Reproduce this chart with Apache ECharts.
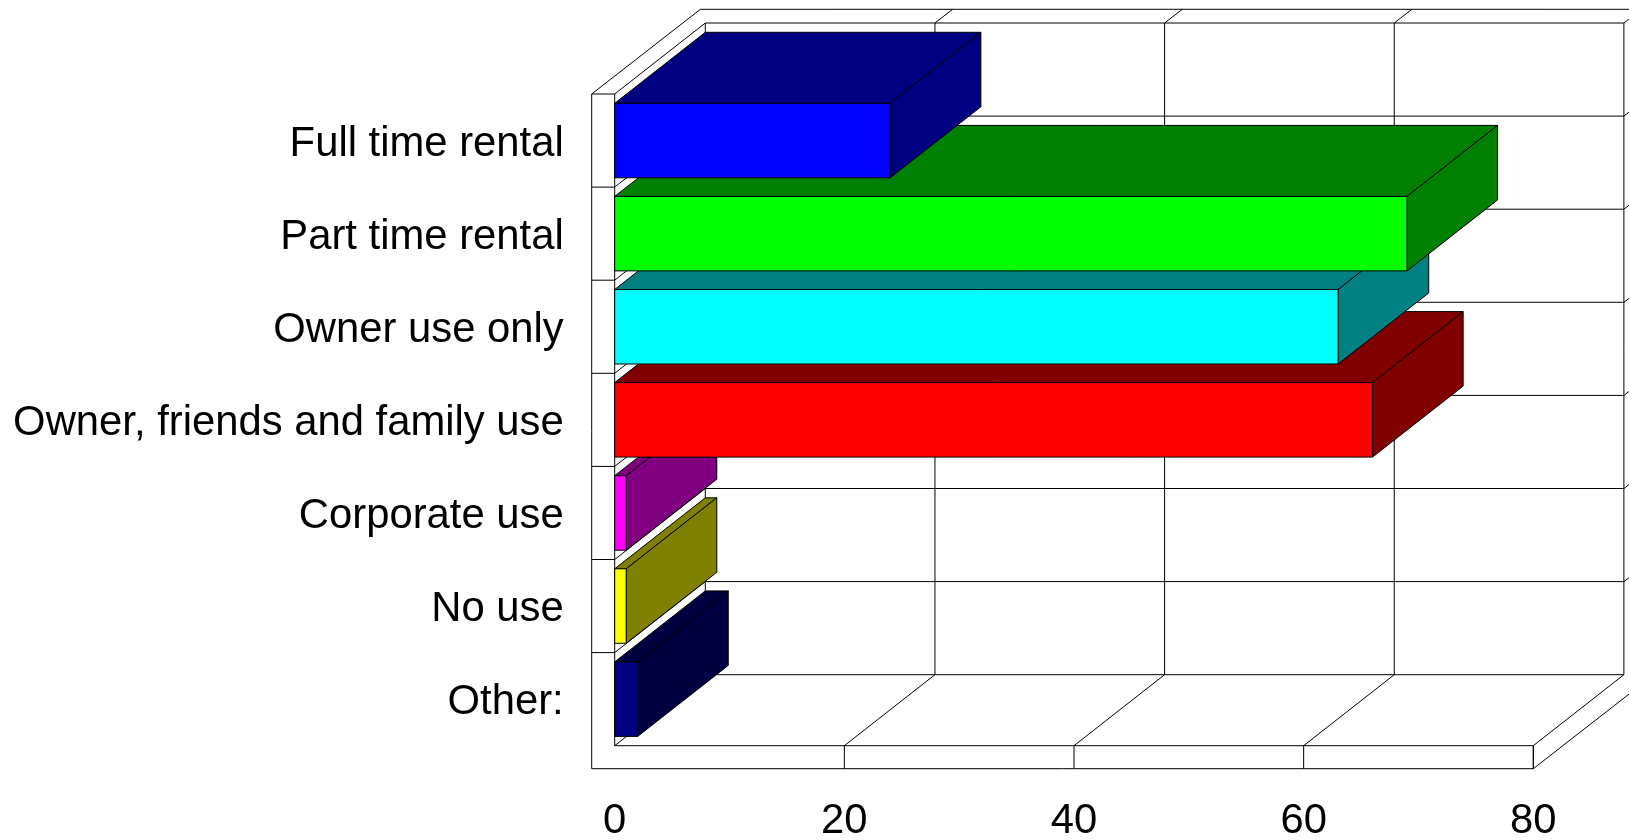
<!DOCTYPE html>
<html>
<head>
<meta charset="utf-8">
<style>html,body{margin:0;padding:0;background:#fff}#c{width:1629px;height:840px}</style>
<script src="https://cdn.jsdelivr.net/npm/echarts@6/dist/echarts.min.js"></script>
</head>
<body>
<div id="c"></div>
<script>
var categories = ['Full time rental','Part time rental','Owner use only','Owner, friends and family use','Corporate use','No use','Other:'];
var values = [24, 69, 63, 66, 1, 1, 2];
var frontColors = ['#0000ff','#00ff00','#00ffff','#ff0000','#ff00ff','#ffff00','#000080'];
var shadeColors = ['#000080','#008000','#008080','#800000','#800080','#808000','#000040'];
var xTicks = [0, 20, 40, 60, 80];

var DEPTH = [90.6, -71];
var OUTER = [108.7, -84.7];
var CAP = [17.7, -13.7];
var WALL = 23;
var LINE = {stroke:'#000', lineWidth:1, fill:null};

function seg(a, b) {
  return {type:'line', shape:{x1:a[0],y1:a[1],x2:b[0],y2:b[1]}, style:LINE, silent:true};
}
function add(p, d) { return [p[0]+d[0], p[1]+d[1]]; }

function renderFrame(params, api) {
  var cs = params.coordSys, ch = [];
  var L = cs.x, T = cs.y, R = cs.x + cs.width, B = cs.y + cs.height;
  var topBack = T + DEPTH[1];
  var backL = L + DEPTH[0];
  var topOuter = T + OUTER[1];
  ch.push(seg([L-WALL, T], [L-WALL, B+WALL]));
  ch.push(seg([L-WALL, T], [L, T]));
  ch.push(seg([L, T], [L, B]));
  ch.push(seg([L-WALL, T], [L-WALL+OUTER[0], topOuter]));
  ch.push(seg([L-WALL+OUTER[0], topOuter], [R+OUTER[0], topOuter]));
  ch.push(seg([L-WALL, B+WALL], [R, B+WALL]));
  ch.push(seg([L, B], [R, B]));
  ch.push(seg([R, B], [R, B+WALL]));
  ch.push(seg([R, B+WALL], add([R, B+WALL], OUTER)));
  ch.push(seg([backL, topBack], [R+DEPTH[0], topBack]));
  ch.push(seg([backL, B+DEPTH[1]], [R+DEPTH[0], B+DEPTH[1]]));
  ch.push(seg([L, B], add([L, B], DEPTH)));
  ch.push(seg([L, T], add([L, T], DEPTH)));
  ch.push(seg([backL, topBack], [backL, B+DEPTH[1]]));
  xTicks.forEach(function (v) {
    var x = api.coord([v, 0])[0];
    if (v > 0) {
      ch.push(seg([x, B], [x, B+WALL]));
      ch.push(seg([x, B], add([x, B], DEPTH)));
      ch.push(seg(add([x, T], DEPTH), add([x, B], DEPTH)));
      ch.push(seg(add([x, T], DEPTH), add(add([x, T], DEPTH), CAP)));
    }
  });
  var band = api.size([0, 1])[1];
  categories.forEach(function (c, i) {
    var y = T + band * (i + 1);
    if (i < categories.length - 1) {
      ch.push(seg([L-WALL, y], [L, y]));
      ch.push(seg([L, y], add([L, y], DEPTH)));
      ch.push(seg(add([L, y], DEPTH), add([R, y], DEPTH)));
      var e = add([R, y], DEPTH);
      ch.push(seg(e, add(e, CAP)));
    }
  });
  return {type:'group', children:ch, silent:true};
}

function renderBar(params, api) {
  var v = api.value(0), cat = api.value(1), idx = api.value(2);
  var p0 = api.coord([0, cat]), p1 = api.coord([v, cat]);
  var h = api.size([0, 1])[1] * 0.8;
  var t = p0[1] - h / 2, b = p0[1] + h / 2, l = p0[0], r = p1[0];
  var st = function (f) { return {fill:f, stroke:'#000', lineWidth:1}; };
  function poly(pts, f) { return {type:'polygon', shape:{points:pts}, style:st(f)}; }
  var a = add([l, t], DEPTH), c = add([r, t], DEPTH), d = add([r, b], DEPTH);
  return {type:'group', children:[
    poly([[l,t],[r,t],c,a], shadeColors[idx]),
    poly([[r,t],[r,b],d,c], shadeColors[idx]),
    {type:'rect', shape:{x:l,y:t,width:r-l,height:b-t}, style:st(frontColors[idx])}
  ]};
}

var barData = categories.map(function (c, i) { return [values[i], i, i]; }).reverse();

var chart = echarts.init(document.getElementById('c'), null, {renderer:'canvas'});
chart.setOption({
  backgroundColor:'#ffffff',
  animation:false,
  grid:{left:614.7, top:94, width:918.6, height:651.7, containLabel:false, outerBoundsMode:'none'},
  xAxis:{
    type:'value', min:0, max:80, interval:20,
    axisLine:{show:false}, axisTick:{show:false}, splitLine:{show:false},
    axisLabel:{color:'#000', fontFamily:'Liberation Sans', fontSize:41.8, margin:55, showMinLabel:true, showMaxLabel:true}
  },
  yAxis:{
    type:'category', inverse:true, data:categories,
    axisLine:{show:false}, axisTick:{show:false}, splitLine:{show:false},
    axisLabel:{color:'#000', fontFamily:'Liberation Sans', fontSize:41.8, margin:51, interval:0, verticalAlign:'top', lineHeight:7}
  },
  series:[
    {type:'custom', z:1, silent:true, data:[[0,0]], renderItem:renderFrame, encode:{x:0,y:1}},
    {type:'custom', z:2, silent:true, data:barData, renderItem:renderBar, encode:{x:0,y:1}}
  ]
});
</script>
</body>
</html>
